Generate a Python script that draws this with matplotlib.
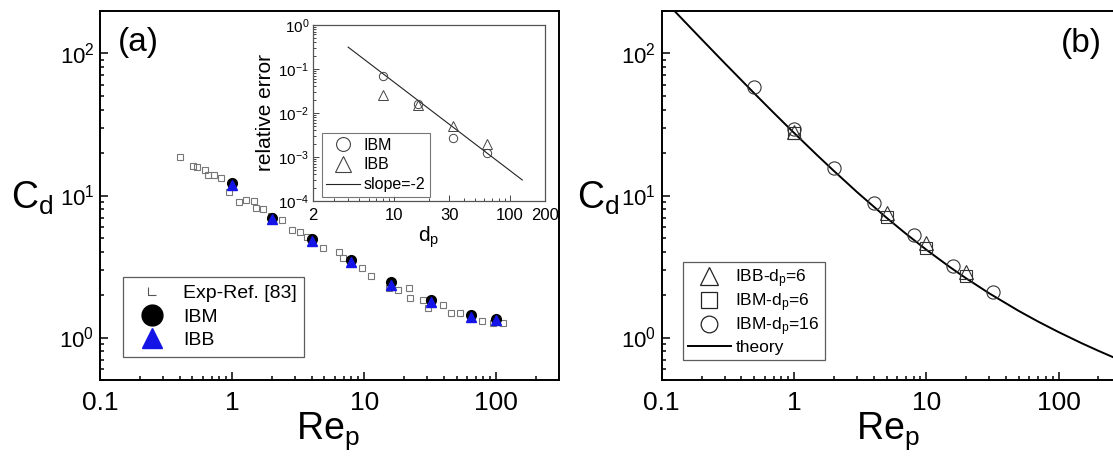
import matplotlib
matplotlib.use("Agg")
import matplotlib.pyplot as plt
import numpy as np
from matplotlib.lines import Line2D
from matplotlib.path import Path
from matplotlib.ticker import LogLocator, NullFormatter, LogFormatterMathtext, FixedLocator, FixedFormatter

plt.rcParams["font.family"] = ["Liberation Sans", "DejaVu Sans"]
plt.rcParams["mathtext.fontset"] = "custom"
plt.rcParams["mathtext.rm"] = "Liberation Sans"
plt.rcParams["mathtext.it"] = "Liberation Sans:italic"
plt.rcParams["mathtext.default"] = "regular"

# ---- panel (a): drag coefficient vs Re, experiment and simulations
exp_re = [0.405, 0.505, 0.546, 0.627, 0.658, 0.733, 0.828, 0.955, 1.12, 1.28,
          1.47, 1.52, 1.70, 1.98, 2.38, 2.83, 3.26, 3.68, 4.88, 6.46,
          6.88, 9.68, 11.3, 15.4, 18.0, 21.7, 22.4, 27.8, 30.6, 39.3,
          45.8, 53.5, 64.5, 77.7, 93.8, 113.0]
exp_cd = [18.6, 16.1, 15.9, 15.0, 13.9, 13.9, 13.2, 10.5, 9.0, 9.27,
          9.12, 8.11, 7.98, 7.16, 6.71, 5.71, 5.56, 5.13, 4.25, 4.03,
          3.62, 3.08, 2.69, 2.23, 2.17, 2.23, 1.90, 1.85, 1.61, 1.70,
          1.49, 1.49, 1.41, 1.30, 1.27, 1.27]
sim_re = [1, 2, 4, 8, 16, 32, 64, 100]
ibm_cd = [12.25, 6.97, 4.92, 3.52, 2.48, 1.85, 1.45, 1.36]
ibb_cd = [11.9, 6.8, 4.8, 3.42, 2.33, 1.79, 1.40, 1.32]

# inset: relative error vs particle diameter
dp = [8, 16, 32, 64]
err_ibm = [0.068, 0.016, 0.0027, 0.00126]
err_ibb = [0.0257, 0.0147, 0.005, 0.00195]
slope_dp = [4, 128]
slope_err = [0.31, 3.0e-4]

# ---- panel (b): comparison with the theory curve
theory_re = [0.12, 0.2, 0.3, 0.5, 0.7, 1, 1.5, 2, 3, 5, 7, 10, 15, 20, 30,
             50, 70, 100, 150, 200, 300]
theory_cd = [207.0, 126.0, 85.25, 52.47, 38.31, 27.6, 19.17, 14.90, 10.55,
             6.975, 5.386, 4.151, 3.142, 2.610, 2.042, 1.538, 1.295, 1.092,
             0.910, 0.806, 0.684]
ibb6_re = [1, 5, 10, 20]
ibb6_cd = [28.2, 7.55, 4.61, 2.91]
ibm6_re = [1, 5, 10, 20]
ibm6_cd = [27.5, 7.01, 4.25, 2.72]
ibm16_re = [0.5, 1, 2, 4, 8, 16, 32]
ibm16_cd = [58.3, 29.5, 15.5, 8.79, 5.27, 3.21, 2.08]

blue = "#1414e6"
L_marker = Path([(-1, 1), (-1, -1), (1, -1)],
                [Path.MOVETO, Path.LINETO, Path.LINETO])

fig = plt.figure(figsize=(11.13, 4.57), dpi=100)
W, H = 1113.0, 457.0


def px_axes(x0, y0, x1, y1):
    return fig.add_axes([x0 / W, 1 - y1 / H, (x1 - x0) / W, (y1 - y0) / H])


def style_main(ax):
    ax.set_xscale("log")
    ax.set_yscale("log")
    ax.set_xlim(0.1, 300)
    ax.set_ylim(0.5, 200)
    ax.xaxis.set_major_locator(FixedLocator([0.1, 1, 10, 100]))
    ax.xaxis.set_major_formatter(FixedFormatter(["0.1", "1", "10", "100"]))
    ax.xaxis.set_minor_locator(LogLocator(base=10, subs=np.arange(2, 10)))
    ax.xaxis.set_minor_formatter(NullFormatter())
    ax.yaxis.set_major_locator(FixedLocator([1, 10, 100]))
    ax.yaxis.set_major_formatter(LogFormatterMathtext())
    ax.yaxis.set_minor_locator(LogLocator(base=10, subs=np.arange(2, 10)))
    ax.yaxis.set_minor_formatter(NullFormatter())
    ax.tick_params(which="both", direction="in", top=False, right=False, width=1.1)
    ax.tick_params(which="major", length=6)
    ax.tick_params(which="minor", length=3)
    ax.tick_params(axis="x", which="major", labelsize=19, pad=8)
    ax.tick_params(axis="y", which="major", labelsize=16, pad=4)
    for s in ax.spines.values():
        s.set_linewidth(1.4)


# panel (a)
axa = px_axes(100, 10.7, 559.3, 380.3)
style_main(axa)
axa.plot(exp_re, exp_cd, ls="none", marker="s", ms=4, mfc="none", mec="#777777", mew=0.8)
axa.plot(sim_re, ibm_cd, ls="none", marker="o", ms=7, color="black")
axa.plot(sim_re, ibb_cd, ls="none", marker="^", ms=6.5, color=blue)
h_exp = Line2D([], [], ls="none", marker=L_marker, ms=6, mfc="none", mec="#555555", mew=0.8)
h_ibm = Line2D([], [], ls="none", marker="o", ms=15, color="black")
h_ibb = Line2D([], [], ls="none", marker="^", ms=15, color=blue)
leg = axa.legend([h_exp, h_ibm, h_ibb], ["Exp-Ref. [83]", "IBM", "IBB"],
                 loc="upper left", bbox_to_anchor=(0.049, 0.28), borderaxespad=0,
                 fontsize=14, fancybox=False, edgecolor="#333333",
                 labelspacing=0.3, handletextpad=0.5, borderpad=0.4, handlelength=2.2)
leg.get_frame().set_linewidth(0.9)
axa.text(0.04, 0.955, "(a)", transform=axa.transAxes, fontsize=24, va="top", ha="left")

# inset of panel (a)
axi = px_axes(313.3, 24.7, 544.7, 201)
axi.set_xscale("log")
axi.set_yscale("log")
axi.set_xlim(2, 200)
axi.set_ylim(1e-4, 1)
axi.plot(slope_dp, slope_err, color="#222222", lw=0.8)
axi.plot(dp, err_ibm, ls="none", marker="o", ms=6, mfc="none", mec="#444444", mew=0.7)
axi.plot(dp, err_ibb, ls="none", marker="^", ms=7, mfc="none", mec="#444444", mew=0.7)
axi.xaxis.set_major_locator(FixedLocator([2, 10, 30, 100, 200]))
axi.xaxis.set_major_formatter(FixedFormatter(["2", "10", "30", "100", "200"]))
axi.xaxis.set_minor_locator(LogLocator(base=10, subs=np.arange(2, 10)))
axi.xaxis.set_minor_formatter(NullFormatter())
axi.yaxis.set_major_locator(FixedLocator([1e-4, 1e-3, 1e-2, 1e-1, 1]))
axi.yaxis.set_major_formatter(LogFormatterMathtext())
axi.yaxis.set_minor_locator(LogLocator(base=10, subs=np.arange(2, 10)))
axi.yaxis.set_minor_formatter(NullFormatter())
axi.tick_params(which="both", direction="in", top=False, right=False, width=0.7, color="#444444")
axi.tick_params(which="major", length=4)
axi.tick_params(which="minor", length=2)
axi.tick_params(axis="x", labelsize=12, pad=5)
axi.tick_params(axis="y", labelsize=11, pad=3)
for s in axi.spines.values():
    s.set_linewidth(0.9)
    s.set_edgecolor("#555555")
axi.set_ylabel("relative error", fontsize=15, labelpad=2)
axi.set_xlabel(r"d$_\mathrm{p}$", fontsize=15, labelpad=1)
hi_ibm = Line2D([], [], ls="none", marker="o", ms=10, mfc="none", mec="#444444", mew=0.8)
hi_ibb = Line2D([], [], ls="none", marker="^", ms=11, mfc="none", mec="#444444", mew=0.8)
hi_sl = Line2D([], [], color="#222222", lw=0.8)
legi = axi.legend([hi_ibm, hi_ibb, hi_sl], ["IBM", "IBB", "slope=-2"],
                  loc="upper left", bbox_to_anchor=(0.036, 0.387), borderaxespad=0,
                  fontsize=11.5, fancybox=False, edgecolor="#555555",
                  labelspacing=0.3, handletextpad=0.2, borderpad=0.3, handlelength=2.1)
legi.get_frame().set_linewidth(0.8)

# panel (b)
axb = px_axes(661.7, 10.7, 1121.8, 380.3)
style_main(axb)
axb.plot(theory_re, theory_cd, color="black", lw=1.4)
axb.plot(ibb6_re, ibb6_cd, ls="none", marker="^", ms=10, mfc="none", mec="#333333", mew=0.8)
axb.plot(ibm6_re, ibm6_cd, ls="none", marker="s", ms=8.5, mfc="none", mec="#333333", mew=0.8)
axb.plot(ibm16_re, ibm16_cd, ls="none", marker="o", ms=9.5, mfc="none", mec="#333333", mew=0.8)
hb1 = Line2D([], [], ls="none", marker="^", ms=13, mfc="none", mec="#222222", mew=0.9)
hb2 = Line2D([], [], ls="none", marker="s", ms=11, mfc="none", mec="#222222", mew=0.9)
hb3 = Line2D([], [], ls="none", marker="o", ms=12, mfc="none", mec="#222222", mew=0.9)
hb4 = Line2D([], [], color="black", lw=1.4)
legb = axb.legend([hb1, hb2, hb3, hb4],
                  [r"IBB-d$_\mathrm{p}$=6", r"IBM-d$_\mathrm{p}$=6",
                   r"IBM-d$_\mathrm{p}$=16", "theory"],
                  loc="upper left", bbox_to_anchor=(0.0453, 0.319), borderaxespad=0,
                  fontsize=12.5, fancybox=False, edgecolor="#333333",
                  labelspacing=0.08, handletextpad=0.25, borderpad=0.3, handlelength=2.5)
legb.get_frame().set_linewidth(0.9)
axb.text(1060.8 / W, 1 - 28 / H, "(b)", transform=fig.transFigure, fontsize=24, va="top", ha="left")

# axis titles, placed in figure pixels
for xc, xr in [(11, 296), (577, 856)]:
    fig.text(xc / W, 1 - 209 / H, r"C$_\mathrm{d}$", fontsize=27, va="baseline", ha="left")
    fig.text(xr / W, 1 - 439 / H, r"Re$_\mathrm{p}$", fontsize=27, va="baseline", ha="left")

fig.savefig("out.png", dpi=100)
